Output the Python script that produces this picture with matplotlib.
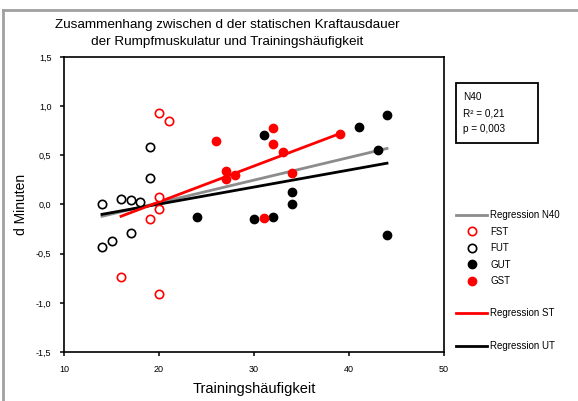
import matplotlib.pyplot as plt
import numpy as np
from matplotlib.lines import Line2D
from matplotlib.patches import Rectangle

plt.rcParams['font.family'] = ['Liberation Sans', 'DejaVu Sans']

# data
fst_x = [20, 21, 20, 20, 19, 16, 20]
fst_y = [0.93, 0.85, 0.08, -0.05, -0.15, -0.74, -0.91]

fut_x = [19, 19, 14, 16, 17, 18, 17, 15, 14]
fut_y = [0.58, 0.27, 0.00, 0.06, 0.05, 0.03, -0.29, -0.37, -0.43]

gut_x = [24, 31, 30, 32, 34, 34, 41, 44, 43, 44]
gut_y = [-0.13, 0.71, -0.15, -0.13, 0.13, 0.00, 0.79, 0.91, 0.55, -0.31]

gst_x = [26, 32, 32, 33, 27, 27, 28, 34, 39, 31]
gst_y = [0.65, 0.78, 0.62, 0.53, 0.34, 0.26, 0.30, 0.32, 0.72, -0.14]

# regression lines (end points)
reg_n40_x = [14, 44]
reg_n40_y = [-0.12, 0.57]
reg_st_x = [16, 39]
reg_st_y = [-0.12, 0.72]
reg_ut_x = [14, 44]
reg_ut_y = [-0.10, 0.42]

red = '#ff0000'
grey = '#8c8c8c'

fig = plt.figure(figsize=(5.78, 4.01), dpi=100)
ax = fig.add_axes([64/578, 1-352/401, 380/578, 295/401])

ax.plot(reg_n40_x, reg_n40_y, color=grey, linewidth=2.0, zorder=2)
ax.plot(reg_ut_x, reg_ut_y, color='black', linewidth=2.0, zorder=2)
ax.plot(reg_st_x, reg_st_y, color=red, linewidth=2.0, zorder=2)

ax.plot(fst_x, fst_y, 'o', mfc='white', mec=red, mew=1.2, ms=6, zorder=3)
ax.plot(fut_x, fut_y, 'o', mfc='white', mec='black', mew=1.2, ms=6, zorder=3)
ax.plot(gut_x, gut_y, 'o', mfc='black', mec='black', ms=6, zorder=3)
ax.plot(gst_x, gst_y, 'o', mfc=red, mec=red, ms=6, zorder=3)

ax.set_xlim(10, 50)
ax.set_ylim(-1.5, 1.5)
ax.set_xticks([10, 20, 30, 40, 50])
ax.set_yticks([-1.5, -1.0, -0.5, 0.0, 0.5, 1.0, 1.5])
ax.set_yticklabels(['-1,5', '-1,0', '-0,5', '0,0', '0,5', '1,0', '1,5'])
ax.tick_params(axis='both', direction='out', length=3, width=1.1,
               labelsize=6.5, pad=6)
for s in ax.spines.values():
    s.set_linewidth(1.2)

ax.set_xlabel('Trainingshäufigkeit', fontsize=10.5, labelpad=6)
ax.set_ylabel('d Minuten', fontsize=10, labelpad=6)

# title
fig.text(227/578, 1-25/401, 'Zusammenhang zwischen d der statischen Kraftausdauer',
         ha='center', va='center', fontsize=9.7)
fig.text(227/578, 1-42/401, 'der Rumpfmuskulatur und Trainingshäufigkeit',
         ha='center', va='center', fontsize=9.7)

# stats box
fig.add_artist(Rectangle((456/578, 1-143/401), 82/578, 60/401, fill=False,
                         ec='black', lw=1.3, transform=fig.transFigure))
fig.text(463/578, 1-113/401, 'N40\nR² = 0,21\np = 0,003', ha='left', va='center',
         fontsize=7.2, linespacing=1.75)

# legends
h1 = [Line2D([], [], color=grey, lw=2.0),
      Line2D([], [], ls='', marker='o', mfc='white', mec=red, mew=1.2, ms=6),
      Line2D([], [], ls='', marker='o', mfc='white', mec='black', mew=1.2, ms=6),
      Line2D([], [], ls='', marker='o', mfc='black', mec='black', ms=6),
      Line2D([], [], ls='', marker='o', mfc=red, mec=red, ms=6)]
l1 = ['Regression N40', 'FST', 'FUT', 'GUT', 'GST']
kw = dict(frameon=False, fontsize=7, handlelength=3.2, handletextpad=0.3,
          borderpad=0, borderaxespad=0, loc='upper left')
fig.legend(h1, l1, bbox_to_anchor=(456/578, 1-210/401), labelspacing=0.68, **kw)
fig.legend([Line2D([], [], color=red, lw=2.0)], ['Regression ST'],
           bbox_to_anchor=(456/578, 1-308/401), **kw)
fig.legend([Line2D([], [], color='black', lw=2.0)], ['Regression UT'],
           bbox_to_anchor=(456/578, 1-341/401), **kw)

# outer grey frame
fig.add_artist(Line2D([3/578, 3/578], [0, 1-10/401], color='#a0a0a0', lw=2,
                      transform=fig.transFigure))
fig.add_artist(Line2D([3/578, 1], [1-10/401, 1-10/401], color='#a0a0a0', lw=2,
                      transform=fig.transFigure))

fig.savefig('out.png', dpi=100)
